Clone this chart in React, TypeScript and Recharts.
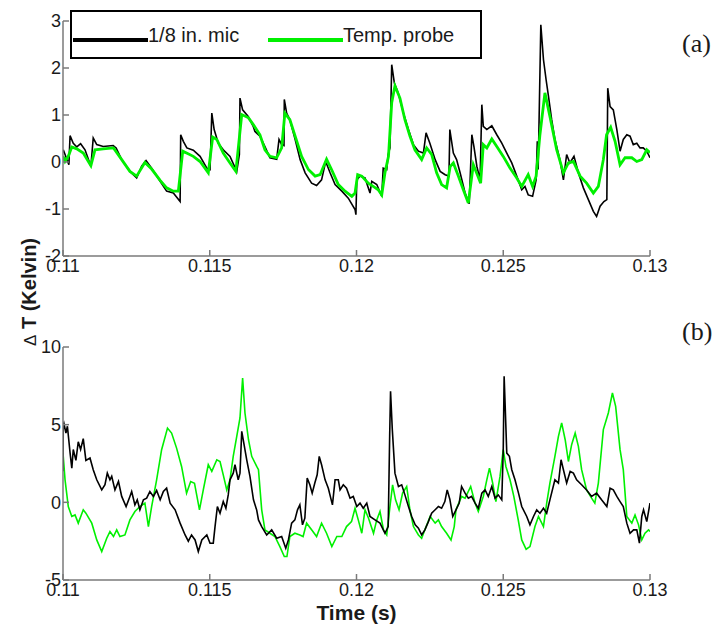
import { Legend, Line, LineChart, XAxis, YAxis } from "recharts";

const MIC = "#000000";
const PROBE = "#00f000";
const AXIS = "#7a7a7a";
const TEXT = "#1a1a1a";
const FONT = "'Liberation Sans', Arial, sans-serif";

const TIME_TICKS = [0.11, 0.115, 0.12, 0.125, 0.13];
const TOP_TICKS = [-2, -1, 0, 1, 2, 3];
const BOTTOM_TICKS = [-5, 0, 5, 10];

// (a) [time s, dT K]
const micA: [number, number][] = [
  [0.11, 0.2], [0.11001, 0.26], [0.1102, -0.06], [0.11024, 0.56], [0.11035, 0.4], [0.11047, 0.32],
  [0.1106, 0.39], [0.11075, 0.26], [0.11095, -0.09], [0.11103, 0.51], [0.11115, 0.37], [0.11137, 0.33],
  [0.11171, 0.35], [0.11181, 0.3], [0.112, 0.05], [0.11228, -0.2], [0.11251, -0.34], [0.11268, -0.09],
  [0.11283, 0.03], [0.11302, -0.13], [0.11331, -0.41], [0.11353, -0.62], [0.11376, -0.66], [0.11399, -0.84],
  [0.11401, 0.58], [0.1141, 0.44], [0.11422, 0.3], [0.11444, 0.25], [0.11467, 0.12], [0.1149, -0.13],
  [0.11501, -0.16], [0.11507, 1.04], [0.11515, 0.69], [0.11529, 0.4], [0.11546, 0.26], [0.11569, 0.12],
  [0.11592, -0.2], [0.11601, 0.16], [0.11603, 1.36], [0.11612, 1.11], [0.11631, 0.97], [0.11648, 0.76],
  [0.11654, 0.65], [0.11671, 0.55], [0.11688, 0.33], [0.11705, 0.09], [0.11728, 0.06], [0.11736, 0.48],
  [0.11745, 0.37], [0.11753, 0.35], [0.11754, 1.33], [0.11762, 1.04], [0.11773, 0.9], [0.11791, 0.48],
  [0.11808, 0.05], [0.11825, -0.23], [0.11847, -0.45], [0.11864, -0.5], [0.11881, -0.38], [0.11895, 0.01],
  [0.1191, -0.23], [0.11927, -0.48], [0.1195, -0.62], [0.11972, -0.77], [0.11995, -1.01], [0.11998, -1.12],
  [0.12001, -0.38], [0.12012, -0.3], [0.12029, -0.34], [0.12046, -0.66], [0.12052, -0.41], [0.12069, -0.48],
  [0.12086, -0.73], [0.12091, -0.13], [0.12103, -0.16], [0.12108, 0.16], [0.12114, 0.3], [0.1212, 2.07],
  [0.12129, 1.68], [0.12142, 1.47], [0.1216, 1.04], [0.12177, 0.69], [0.12194, 0.37], [0.12211, 0.23],
  [0.12228, 0.19], [0.12237, 0.62], [0.1225, 0.4], [0.12268, 0.05], [0.12285, -0.2], [0.12302, -0.27],
  [0.12315, -0.3], [0.12318, 0.69], [0.1233, 0.19], [0.12341, 0.05], [0.12353, -0.23], [0.1237, -0.66],
  [0.12384, -0.89], [0.12393, 0.58], [0.124, 0.33], [0.1241, -0.09], [0.12421, -0.38], [0.12427, 1.22],
  [0.12432, 0.76], [0.12444, 0.69], [0.12461, 0.77], [0.12478, 0.58], [0.12495, 0.4], [0.12512, 0.19],
  [0.12529, -0.02], [0.12546, -0.3], [0.12563, -0.59], [0.12574, -0.52], [0.12585, -0.7], [0.126, -0.73],
  [0.12612, -0.38], [0.12616, 0.44], [0.12619, -0.16], [0.12628, 2.92], [0.12637, 2.18], [0.12646, 1.75],
  [0.12654, 1.4], [0.12665, 0.9], [0.12676, 0.48], [0.12693, 0.05], [0.12705, -0.38], [0.12716, 0.16],
  [0.12727, -0.02], [0.12741, 0.12], [0.12756, -0.23], [0.12773, -0.55], [0.1279, -0.8], [0.12807, -1.05],
  [0.12818, -1.16], [0.1283, -0.94], [0.12843, -0.84], [0.12853, -0.8], [0.12856, 1.57], [0.12864, 1.18],
  [0.12875, 1.11], [0.12887, 0.69], [0.12898, 0.23], [0.12909, 0.48], [0.12921, 0.58], [0.12932, 0.55],
  [0.12943, 0.37], [0.12955, 0.4], [0.12966, 0.3], [0.12977, 0.3], [0.12989, 0.23], [0.13, 0.09],
];

const probeA: [number, number][] = [
  [0.11, 0.12], [0.11007, 0.01], [0.11018, 0.12], [0.1103, 0.32], [0.11047, 0.28], [0.11069, 0.19],
  [0.11095, -0.08], [0.11109, 0.26], [0.11137, 0.28], [0.11172, 0.3], [0.112, 0.05], [0.11228, -0.2],
  [0.11251, -0.3], [0.11279, -0.01], [0.11302, -0.15], [0.11331, -0.39], [0.11353, -0.55], [0.11376, -0.62],
  [0.11393, -0.62], [0.11408, 0.23], [0.11421, 0.19], [0.11444, 0.12], [0.11467, 0.01], [0.11495, -0.23],
  [0.1151, 0.53], [0.11524, 0.48], [0.11546, 0.19], [0.11569, -0.02], [0.11589, -0.2], [0.11609, 1.01],
  [0.11632, 0.94], [0.11649, 0.79], [0.11671, 0.58], [0.11688, 0.26], [0.11705, 0.12], [0.11728, 0.09],
  [0.11745, 0.3], [0.11756, 1.04], [0.11773, 0.9], [0.11791, 0.55], [0.11813, 0.12], [0.11836, -0.16],
  [0.11859, -0.3], [0.11876, -0.27], [0.11898, 0.06], [0.11915, -0.16], [0.11938, -0.48], [0.11961, -0.62],
  [0.11984, -0.73], [0.11995, -0.66], [0.12004, -0.27], [0.12018, -0.3], [0.1204, -0.45], [0.12057, -0.52],
  [0.12074, -0.59], [0.12086, -0.7], [0.12097, -0.23], [0.12109, 0.12], [0.1212, 1.26], [0.12131, 1.62],
  [0.12148, 1.36], [0.12165, 0.9], [0.12182, 0.55], [0.12199, 0.26], [0.12222, 0.05], [0.12239, 0.3],
  [0.12256, 0.16], [0.12273, -0.23], [0.1229, -0.48], [0.12307, -0.55], [0.12319, -0.1], [0.1233, -0.02],
  [0.12347, -0.3], [0.12364, -0.59], [0.12381, -0.87], [0.12398, -0.06], [0.12409, -0.23], [0.12423, -0.45],
  [0.12432, 0.37], [0.12444, 0.3], [0.12461, 0.49], [0.12478, 0.33], [0.125, 0.12], [0.12523, -0.13],
  [0.12546, -0.34], [0.12563, -0.52], [0.12585, -0.27], [0.126, -0.52], [0.12612, -0.3], [0.12625, 0.58],
  [0.12642, 1.47], [0.12659, 0.97], [0.12682, 0.26], [0.12705, -0.23], [0.12722, -0.02], [0.12739, 0.01],
  [0.12762, -0.3], [0.12784, -0.45], [0.12807, -0.66], [0.12824, -0.52], [0.12841, 0.05], [0.12852, 0.58],
  [0.12866, 0.74], [0.12881, 0.44], [0.12898, -0.06], [0.12915, 0.09], [0.12938, 0.09], [0.12955, 0.01],
  [0.12972, 0.05], [0.12989, 0.26], [0.13, 0.2],
];

// (b)
const micB: [number, number][] = [
  [0.11, 2.0], [0.11001, 5.0], [0.11003, 5.1], [0.1101, 4.46], [0.11015, 4.9], [0.11024, 3.2],
  [0.1103, 2.2], [0.11035, 3.4], [0.11044, 2.7], [0.11052, 3.9], [0.1106, 3.4], [0.11069, 4.1],
  [0.11078, 2.7], [0.11092, 2.85], [0.11103, 2.1], [0.11115, 1.45], [0.11132, 0.8], [0.11143, 1.13],
  [0.11151, 1.88], [0.1116, 1.45], [0.11166, 1.67], [0.11177, 0.8], [0.11189, 1.34], [0.112, 0.38],
  [0.11215, -0.27], [0.11228, 0.38], [0.11234, 0.7], [0.11245, -0.16], [0.11253, 0.16], [0.11262, -0.48],
  [0.11274, 0.16], [0.11285, 0.27], [0.11296, 0.7], [0.11308, 0.38], [0.11319, 0.76], [0.11331, 0.16],
  [0.11342, 0.7], [0.11353, 0.91], [0.11365, -0.05], [0.11382, -0.48], [0.11399, -1.34], [0.11416, -2.1],
  [0.11427, -2.5], [0.11438, -2.1], [0.1145, -2.42], [0.11461, -3.17], [0.11473, -2.42], [0.1149, -2.1],
  [0.11501, -2.63], [0.11512, -2.63], [0.11518, -1.56], [0.11526, -0.27], [0.11535, -0.7], [0.11546, 0.05],
  [0.11555, -0.38], [0.11563, 0.48], [0.11569, 1.45], [0.1158, 1.88], [0.11586, 2.42], [0.11597, 1.45],
  [0.11603, 1.88], [0.11609, 4.57], [0.11614, 4.03], [0.11626, 2.74], [0.11637, 1.67], [0.11649, 0.16],
  [0.1166, -0.5], [0.11666, -1.13], [0.11677, -1.56], [0.11694, -2.1], [0.11711, -1.77], [0.11728, -2.31],
  [0.11745, -2.2], [0.11759, -2.96], [0.11768, -2.42], [0.11779, -1.34], [0.1179, -1.13], [0.11799, -0.48],
  [0.11807, -0.16], [0.11816, -1.45], [0.11824, -1.02], [0.11832, 1.56], [0.11841, 1.13], [0.11849, 0.59],
  [0.11858, 1.24], [0.11866, 1.77], [0.11873, 2.96], [0.11881, 2.42], [0.11893, 1.45], [0.11904, 0.91],
  [0.11918, -0.16], [0.11927, 1.45], [0.11938, 1.45], [0.11944, 0.8], [0.11955, 1.13], [0.11966, 0.91],
  [0.11978, 0.27], [0.11989, 0.38], [0.12001, -0.27], [0.12012, -0.05], [0.12023, -0.38], [0.12035, -0.05],
  [0.12046, -0.91], [0.12063, -1.13], [0.1208, -1.34], [0.12097, -1.99], [0.12108, -1.56], [0.12113, 4.25],
  [0.12116, 7.15], [0.12122, 4.68], [0.12131, 1.88], [0.12143, 1.02], [0.12154, 1.13], [0.12165, 0.48],
  [0.12177, -0.27], [0.12188, -0.91], [0.122, -1.45], [0.12211, -1.67], [0.12222, -2.1], [0.12233, -1.77],
  [0.12245, -1.24], [0.12256, -0.7], [0.12268, -0.48], [0.12279, -0.27], [0.1229, -0.38], [0.12301, 0.05],
  [0.12309, 0.8], [0.12318, 0.2], [0.12328, -0.91], [0.12339, -0.48], [0.1235, -0.05], [0.12358, 1.02],
  [0.1237, 0.59], [0.12381, 0.27], [0.12392, 0.38], [0.12404, -0.05], [0.12415, -0.38], [0.12427, 0.59],
  [0.12438, 0.8], [0.12449, 0.38], [0.12461, 1.02], [0.12472, 0.27], [0.12483, 0.48], [0.12495, 0.16],
  [0.125, 3.39], [0.12503, 8.12], [0.12507, 5.97], [0.12512, 3.17], [0.12521, 2.96], [0.12529, 2.1],
  [0.1254, 1.45], [0.12552, 0.59], [0.12563, -0.27], [0.1258, -0.91], [0.12591, -1.45], [0.12603, -0.91],
  [0.12614, -0.48], [0.12625, -0.7], [0.12637, -0.38], [0.12648, -0.7], [0.12659, 0.16], [0.12676, 1.45],
  [0.12688, 1.24], [0.12697, 2.74], [0.12705, 2.1], [0.12716, 1.24], [0.12728, 1.99], [0.12739, 1.88],
  [0.1275, 1.45], [0.12767, 1.13], [0.12784, 0.8], [0.12801, 0.38], [0.12818, 0.59], [0.12835, 0.16],
  [0.12853, -0.27], [0.12864, 0.91], [0.12875, 0.8], [0.12887, 0.38], [0.12898, 0.05], [0.12909, -0.27],
  [0.12921, -1.34], [0.12932, -1.99], [0.12944, -1.77], [0.12955, -1.77], [0.12964, -2.63], [0.12972, -0.91],
  [0.12978, -0.48], [0.12989, -1.24], [0.13, -0.05],
];

const probeB: [number, number][] = [
  [0.11, 3.17], [0.11007, 1.45], [0.11018, -0.27], [0.1103, -0.91], [0.11041, -0.81], [0.11052, -1.34],
  [0.11069, -0.48], [0.11078, -0.7], [0.11098, -1.34], [0.11115, -2.42], [0.11132, -3.17], [0.11149, -2.31],
  [0.1116, -1.88], [0.11172, -2.2], [0.11183, -1.77], [0.11194, -2.2], [0.11211, -2.1], [0.11228, -1.13],
  [0.11245, -0.59], [0.11262, -0.27], [0.11279, -0.05], [0.11291, -1.56], [0.11302, -0.27], [0.11319, 1.45],
  [0.11336, 3.39], [0.11356, 4.78], [0.1137, 4.46], [0.11387, 3.49], [0.11404, 2.31], [0.11421, 0.59],
  [0.11435, 1.34], [0.11448, 1.23], [0.11465, -0.48], [0.11478, 0.8], [0.11495, 2.42], [0.11507, 1.99],
  [0.11524, 2.74], [0.11535, 2.63], [0.11546, 1.77], [0.11558, 0.8], [0.11569, 1.45], [0.1158, 2.96],
  [0.11592, 4.25], [0.11603, 5.43], [0.11612, 8.0], [0.1162, 5.75], [0.11632, 4.03], [0.11643, 2.96],
  [0.1166, 2.31], [0.11666, 2.1], [0.11677, -0.48], [0.11688, -1.77], [0.11705, -1.99], [0.11722, -2.2],
  [0.11739, -2.85], [0.11754, -3.49], [0.11763, -3.49], [0.11773, -2.2], [0.1179, -1.99], [0.11807, -2.1],
  [0.11818, -2.2], [0.1183, -1.34], [0.11847, -1.77], [0.11864, -2.2], [0.11881, -1.34], [0.11898, -1.99],
  [0.11916, -2.85], [0.11933, -2.2], [0.1195, -2.2], [0.11966, -1.56], [0.11983, -1.24], [0.11995, -0.38],
  [0.12006, -1.13], [0.12018, -1.99], [0.12029, -0.48], [0.12041, -1.02], [0.12058, -1.99], [0.12069, -1.13],
  [0.1208, -0.59], [0.12092, -1.77], [0.12103, -2.1], [0.12114, -0.27], [0.12123, 1.13], [0.12133, 0.16],
  [0.12145, -0.48], [0.12157, 0.59], [0.12171, 1.02], [0.12182, -0.48], [0.12194, -1.56], [0.12211, -2.1],
  [0.12222, -2.31], [0.12233, -1.77], [0.12251, -0.91], [0.12268, -1.34], [0.12279, -1.13], [0.1229, -1.56],
  [0.12307, -1.99], [0.12322, -2.42], [0.12333, -1.56], [0.12339, -0.48], [0.12358, 0.38], [0.1237, 0.27],
  [0.12389, 1.02], [0.12404, -0.05], [0.12415, -0.59], [0.12432, 0.38], [0.12444, 1.45], [0.12453, 2.2],
  [0.12464, 1.24], [0.12475, 0.05], [0.12489, 1.67], [0.125, 3.39], [0.12509, 2.31], [0.12523, 1.45],
  [0.12536, 0.38], [0.12551, -1.13], [0.12563, -2.42], [0.12578, -3.02], [0.12591, -2.85], [0.12608, -1.56],
  [0.1262, -0.91], [0.12637, -1.56], [0.12648, -0.05], [0.12659, 1.24], [0.12676, 2.96], [0.12688, 4.25],
  [0.12699, 5.11], [0.12711, 4.03], [0.12722, 2.63], [0.12733, 3.71], [0.12745, 4.46], [0.12756, 3.6],
  [0.12767, 2.1], [0.12784, 0.8], [0.12801, 0.27], [0.12812, -0.05], [0.12824, 1.24], [0.12841, 4.68],
  [0.12858, 5.75], [0.12872, 7.04], [0.12883, 6.18], [0.12898, 3.39], [0.12909, 2.1], [0.12921, -0.91],
  [0.12938, -1.34], [0.12949, -0.81], [0.12961, -1.45], [0.12972, -2.42], [0.12983, -1.99], [0.12995, -1.77],
  [0.13, -1.88],
];

const toRows = (pts: [number, number][]) => pts.map(([t, v]) => ({ t, v }));

const tickStyle = { fontSize: 18, fill: TEXT, fontFamily: FONT };

function LegendBox() {
  const item = (color: string, label: string, left: number) => (
    <div style={{ position: "absolute", left, top: 12, display: "flex", alignItems: "flex-end" }}>
      <div style={{ width: 75, height: 4, background: color, marginBottom: 4 }} />
      <span style={{ fontSize: 20, lineHeight: "22px", color: TEXT }}>{label}</span>
    </div>
  );
  return (
    <div
      style={{
        position: "relative",
        width: 412,
        height: 49,
        boxSizing: "border-box",
        border: "2px solid #000",
        background: "#fff",
        fontFamily: FONT,
      }}
    >
      {item(MIC, "1/8 in. mic", 1)}
      {item(PROBE, "Temp. probe", 196)}
    </div>
  );
}

function timeAxis(height: number, label?: boolean) {
  return (
    <XAxis
      dataKey="t"
      type="number"
      domain={[0.11, 0.13]}
      ticks={TIME_TICKS}
      allowDataOverflow
      height={height}
      tick={tickStyle}
      tickSize={-6}
      tickMargin={9}
      tickLine={{ stroke: AXIS, strokeWidth: 1.5 }}
      axisLine={{ stroke: AXIS, strokeWidth: 1.5 }}
      label={
        label
          ? { value: "Time (s)", position: "insideBottom", offset: 5, fontSize: 21, fontWeight: 700, fill: TEXT, fontFamily: FONT }
          : undefined
      }
    />
  );
}

export default function App() {
  return (
    <div style={{ position: "absolute", left: 0, top: 0, width: 719, height: 627, background: "#fff" }}>
      <div style={{ position: "absolute", left: 0, top: 0 }}>
        <LineChart width={719} height={300} margin={{ top: 21, right: 69, bottom: 4, left: 20 }}>
          {timeAxis(40)}
          <YAxis
            type="number"
            domain={[-2, 3]}
            ticks={TOP_TICKS}
            width={43}
            tick={tickStyle}
            tickSize={-6}
            tickMargin={8}
            tickLine={{ stroke: AXIS, strokeWidth: 1.5 }}
            axisLine={{ stroke: AXIS, strokeWidth: 1.5 }}
          />
          <Legend
            layout="horizontal"
            verticalAlign="middle"
            align="center"
            content={() => <LegendBox />}
            wrapperStyle={{ left: 70, top: 10, width: 412, height: 49 }}
          />
          <Line data={toRows(micA)} dataKey="v" stroke={MIC} strokeWidth={1.6} dot={false} isAnimationActive={false} />
          <Line data={toRows(probeA)} dataKey="v" stroke={PROBE} strokeWidth={2.8} dot={false} isAnimationActive={false} />
        </LineChart>
      </div>
      <div style={{ position: "absolute", left: 0, top: 300 }}>
        <LineChart width={719} height={327} margin={{ top: 47, right: 69, bottom: 2, left: 20 }}>
          {timeAxis(45, true)}
          <YAxis
            type="number"
            domain={[-5, 10]}
            ticks={BOTTOM_TICKS}
            width={43}
            tick={tickStyle}
            tickSize={-6}
            tickMargin={8}
            tickLine={{ stroke: AXIS, strokeWidth: 1.5 }}
            axisLine={{ stroke: AXIS, strokeWidth: 1.5 }}
          />
          <Line data={toRows(probeB)} dataKey="v" stroke={PROBE} strokeWidth={1.6} dot={false} isAnimationActive={false} />
          <Line data={toRows(micB)} dataKey="v" stroke={MIC} strokeWidth={1.6} dot={false} isAnimationActive={false} />
        </LineChart>
      </div>
      <div
        style={{
          position: "absolute",
          left: 29,
          top: 292,
          transform: "translate(-50%, -50%) rotate(-90deg)",
          whiteSpace: "nowrap",
          fontFamily: FONT,
          fontWeight: 700,
          fontSize: 20,
          color: TEXT,
        }}
      >
        <span style={{ fontSize: 17, fontWeight: 400 }}>Δ</span> T (Kelvin)
      </div>
      <div style={{ position: "absolute", left: 682, top: 29, fontFamily: "'Liberation Serif', serif", fontSize: 26, color: TEXT }}>
        (a)
      </div>
      <div style={{ position: "absolute", left: 682, top: 317, fontFamily: "'Liberation Serif', serif", fontSize: 26, color: TEXT }}>
        (b)
      </div>
    </div>
  );
}
